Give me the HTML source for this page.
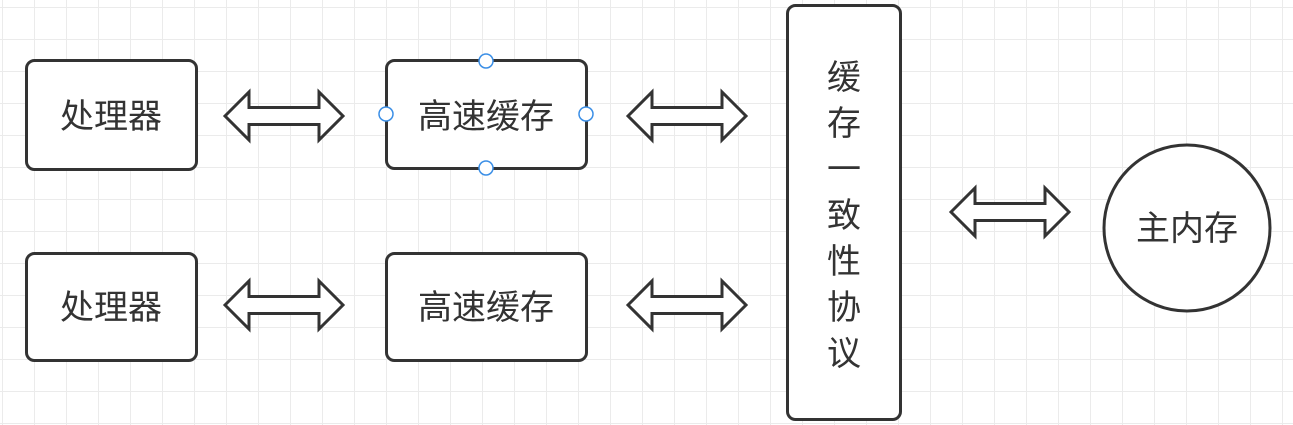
<!DOCTYPE html>
<html><head><meta charset="utf-8"><style>
html,body{margin:0;padding:0}
body{width:1293px;height:425px;overflow:hidden;background:#fff;
background-image:linear-gradient(to right,#ebebeb 1px,transparent 1px),linear-gradient(to bottom,#ebebeb 1px,transparent 1px);
background-size:32px 32px;background-position:2px 7px;}
text{font-family:"Liberation Sans","Noto Sans CJK SC",sans-serif;fill:#333;font-size:34px}
</style></head><body>
<svg width="1293" height="425" viewBox="0 0 1293 425" xmlns="http://www.w3.org/2000/svg" style="position:absolute;left:0;top:0">
<defs>
<path id="arr" d="M0 0 L24 -24 L24 -8.5 L94 -8.5 L94 -24 L118 0 L94 24 L94 8.5 L24 8.5 L24 24 Z" fill="#fff" stroke="#333" stroke-width="3" stroke-linejoin="miter"/>
</defs>
<g fill="#fff" stroke="#333" stroke-width="3">
<rect x="26.5" y="60.5" width="170" height="109" rx="8"/>
<rect x="26.5" y="253.5" width="170" height="107" rx="8"/>
<rect x="386.5" y="60.5" width="200" height="108" rx="8"/>
<rect x="386.5" y="253.5" width="200" height="107" rx="8"/>
<rect x="787.5" y="5.5" width="113" height="414" rx="8"/>
<circle cx="1187" cy="228" r="83"/>
</g>
<use href="#arr" x="225" y="116"/>
<use href="#arr" x="628" y="116"/>
<use href="#arr" x="225" y="305"/>
<use href="#arr" x="628" y="305"/>
<use href="#arr" x="951" y="212"/>
<g fill="#fff" stroke="#3a8ee6" stroke-width="1.5">
<circle cx="486" cy="61" r="7"/><circle cx="386" cy="114" r="7"/>
<circle cx="586" cy="114" r="7"/><circle cx="486" cy="168" r="7"/>
</g>
<g text-anchor="middle">
<text x="111" y="128">处理器</text>
<text x="111" y="319">处理器</text>
<text x="486" y="128">高速缓存</text>
<text x="486" y="319">高速缓存</text>
<text x="1187" y="240">主内存</text>
<text x="844" y="89">缓</text>
<text x="844" y="135">存</text>
<text x="844" y="181">一</text>
<text x="844" y="227">致</text>
<text x="844" y="273">性</text>
<text x="844" y="319">协</text>
<text x="844" y="365">议</text>
</g>
</svg>
</body></html>
